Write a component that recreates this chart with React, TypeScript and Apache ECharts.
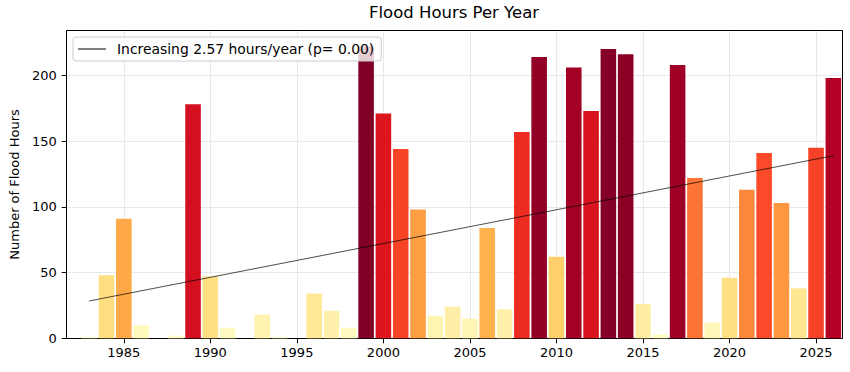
import React, { useEffect, useRef } from "react";
import * as echarts from "echarts";

const years = [
  1983, 1984, 1985, 1986, 1987, 1988, 1989, 1990, 1991, 1992, 1993, 1994, 1995,
  1996, 1997, 1998, 1999, 2000, 2001, 2002, 2003, 2004, 2005, 2006, 2007, 2008,
  2009, 2010, 2011, 2012, 2013, 2014, 2015, 2016, 2017, 2018, 2019, 2020, 2021,
  2022, 2023, 2024, 2025, 2026,
];
const floodHours = [
  1, 48, 91, 10, 0, 2, 178, 47, 8, 0, 18, 1, 0,
  34, 21, 8, 222, 171, 144, 98, 17, 24, 15, 84, 22, 157,
  214, 62, 206, 173, 220, 216, 26, 3, 208, 122, 12, 46, 113,
  141, 103, 38, 145, 198,
];
const xTickYears = [1985, 1990, 1995, 2000, 2005, 2010, 2015, 2020, 2025];
const yTickValues = [0, 50, 100, 150, 200];
const trendYears = [1983, 2026];
const trendValues = [28.4, 138.9];
const trendLabel = "Increasing 2.57 hours/year (p= 0.00)";
const ylOrRd = [
  "#ffffcc", "#ffeda0", "#fed976", "#feb24c", "#fd8d3c",
  "#fc4e2a", "#e31a1c", "#bd0026", "#800026",
];

const FONT = "DejaVu Sans";

export default function App() {
  const ref = useRef<HTMLDivElement>(null);
  useEffect(() => {
    if (!ref.current) return;
    const chart = echarts.init(ref.current, undefined, { renderer: "svg" });
    const xMin = 1981.7;
    const xMax = 2026.5;
    const yMax = 234;
    chart.setOption({
      animation: false,
      backgroundColor: "#ffffff",
      textStyle: { fontFamily: FONT },
      title: {
        text: "Flood Hours Per Year",
        left: 454,
        textAlign: "center",
        top: 4,
        padding: 0,
        textStyle: { fontFamily: FONT, fontSize: 16.5, fontWeight: "normal", color: "#000" },
      },
      grid: { left: 66.7, right: 8, top: 30.7, bottom: 33.7 },
      legend: {
        left: 73,
        top: 37,
        padding: [5, 7, 5, 5],
        backgroundColor: "rgba(255,255,255,0.8)",
        borderColor: "#cccccc",
        borderWidth: 1,
        borderRadius: 3,
        itemWidth: 28,
        itemHeight: 1,
        icon: "rect",
        data: [{ name: trendLabel, itemStyle: { color: "#000" } }],
        textStyle: { fontFamily: FONT, fontSize: 13.9, color: "#000", padding: [0, 0, 0, 6] },
      },
      visualMap: {
        show: false,
        type: "continuous",
        seriesIndex: 0,
        dimension: 1,
        min: 0,
        max: 222,
        inRange: { color: ylOrRd },
      },
      xAxis: [
        {
          type: "value",
          min: xMin,
          max: xMax,
          axisLine: { show: true, onZero: false, lineStyle: { color: "#000", width: 1 } },
          axisTick: { show: true, length: 5, customValues: xTickYears, lineStyle: { color: "#000" } },
          axisLabel: {
            customValues: xTickYears,
            margin: 8,
            fontFamily: FONT,
            fontSize: 13,
            color: "#000",
            formatter: (v: number) => String(v),
          },
          splitLine: { show: true, lineStyle: { color: "#e8e8e8", width: 1 } },
        },
        {
          type: "value",
          position: "top",
          min: xMin,
          max: xMax,
          axisLine: { show: true, onZero: false, lineStyle: { color: "#000", width: 1 } },
          axisTick: { show: false },
          axisLabel: { show: false },
          splitLine: { show: false },
        },
      ],
      yAxis: [
        {
          type: "value",
          min: 0,
          max: yMax,
          name: "Number of Flood Hours",
          nameLocation: "middle",
          nameGap: 44,
          nameTextStyle: { fontFamily: FONT, fontSize: 13, color: "#000" },
          axisLine: { show: true, lineStyle: { color: "#000", width: 1 } },
          axisTick: { show: true, length: 5, customValues: yTickValues, lineStyle: { color: "#000" } },
          axisLabel: {
            customValues: yTickValues,
            margin: 10,
            fontFamily: FONT,
            fontSize: 13,
            color: "#000",
          },
          splitLine: { show: true, lineStyle: { color: "#e8e8e8", width: 1 } },
        },
        {
          type: "value",
          position: "right",
          min: 0,
          max: yMax,
          axisLine: { show: true, lineStyle: { color: "#000", width: 1 } },
          axisTick: { show: false },
          axisLabel: { show: false },
          splitLine: { show: false },
        },
      ],
      series: [
        {
          type: "bar",
          xAxisIndex: 0,
          yAxisIndex: 0,
          barWidth: "90%",
          data: years.map((y, i) => [y, floodHours[i]]),
          z: 2,
        },
        {
          type: "line",
          name: trendLabel,
          xAxisIndex: 0,
          yAxisIndex: 0,
          symbol: "none",
          lineStyle: { color: "#000", width: 0.7 },
          itemStyle: { color: "#000" },
          data: trendYears.map((y, i) => [y, trendValues[i]]),
          z: 3,
        },
      ],
    });
    return () => chart.dispose();
  }, []);
  return (
    <div
      ref={ref}
      style={{ position: "fixed", left: 0, top: 0, width: 850, height: 372 }}
    />
  );
}
